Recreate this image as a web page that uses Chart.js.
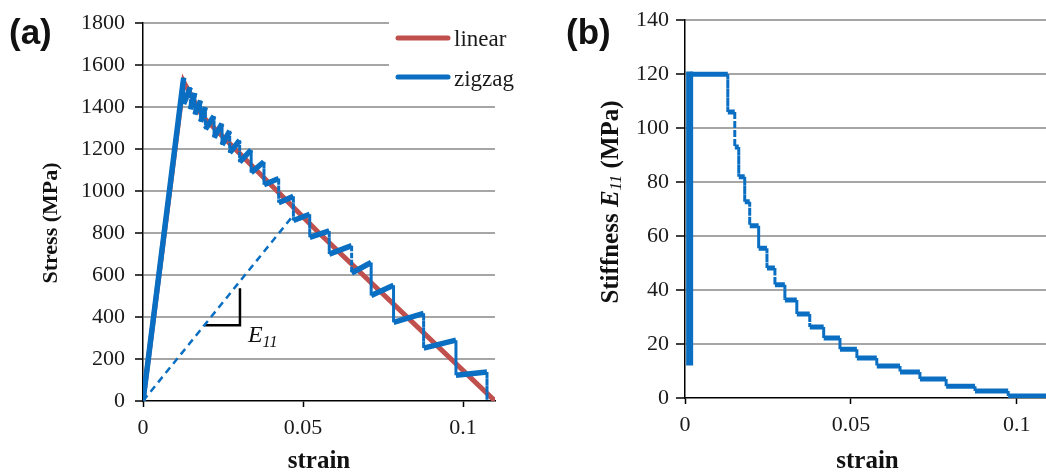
<!DOCTYPE html>
<html>
<head>
<meta charset="utf-8">
<title>Stress and stiffness vs strain</title>
<script src="https://cdn.jsdelivr.net/npm/chart.js@4.4.0/dist/chart.umd.min.js"></script>
<style>
    html, body { margin: 0; padding: 0; background: #fff; overflow: hidden; }
    body { width: 1046px; height: 474px; position: relative; }
    .panel { position: absolute; top: 0; height: 474px; }
    #wrapA { left: 0; width: 545px; }
    #wrapB { left: 560px; width: 500px; }
    .tag { position: absolute; font: bold 35px "Liberation Sans", Arial, sans-serif; line-height: 1; color: #111; }
</style>
</head>
<body>
<div class="panel" id="wrapA"><canvas id="chartA"></canvas></div>
<div class="panel" id="wrapB"><canvas id="chartB"></canvas></div>
<div class="tag" style="left:9px; top:14px;">(a)</div>
<div class="tag" style="left:566px; top:14px;">(b)</div>

<script>
// ---- Data ----

// (a) linear softening law
const linearStrain = [0, 0.0127, 0.0185, 0.0547, 0.11];
const linearStress = [0, 1522, 1358, 805, 0];

// (a) zigzag: strain of each stress drop, stress before and after the drop
const dropStrain = [0.0127, 0.0148, 0.0162, 0.0180, 0.0195, 0.0222, 0.0247, 0.0271, 0.0302, 0.0338, 0.0378,
                    0.0424, 0.0470, 0.0521, 0.0582, 0.0652, 0.0713, 0.0783, 0.0877, 0.0978, 0.1075];
const dropTop = [1540, 1495, 1468, 1432, 1400, 1358, 1322, 1287, 1242, 1196, 1140,
                 1060, 975, 890, 810, 740, 660, 551, 418, 290, 138];
const dropBottom = [1415, 1390, 1365, 1330, 1295, 1255, 1220, 1182, 1138, 1088, 1030,
                    945, 860, 780, 700, 610, 503, 375, 252, 123, 5];

// (a) dashed secant (unloading to origin)
const secantStrain = [0, 0.047];
const secantStress = [0, 885];

// (a) slope marker for E11
const markerStrain = [0.0194, 0.0303, 0.0303];
const markerStress = [361, 361, 537];

// (b) stiffness steps: level i holds from stiffStrain[i] to stiffStrain[i+1]
const stiffStrain = [0.0014, 0.0129, 0.0150, 0.0162, 0.0180, 0.0195, 0.0222, 0.0247, 0.0271, 0.0301, 0.0337,
                     0.0376, 0.0418, 0.0467, 0.0518, 0.0578, 0.0648, 0.0708, 0.0787, 0.0874, 0.0974, 0.11];
const stiffLevel = [120, 106, 93, 82, 72.7, 63.8, 55.5, 48.2, 42, 36.3, 31.1,
                    26.3, 22.2, 18.1, 14.8, 11.9, 9.6, 7.0, 4.4, 2.6, 0.7];
const stiffStart = 12;

// Tick values
const strainTicks = [0, 0.05, 0.1];
const stressTicks = [0, 200, 400, 600, 800, 1000, 1200, 1400, 1600, 1800];
const stiffTicks = [0, 20, 40, 60, 80, 100, 120, 140];

// ---- Style ----
const colors = {
    blue: '#0a6fc2',
    red: '#c0504d',
    grid: '#a6a6a6',
    text: '#1a1a1a'
};
const serif = '"Liberation Serif", "Times New Roman", serif';

Chart.defaults.font.family = serif;
Chart.defaults.color = colors.text;
Chart.defaults.animation = false;

// Helpers
function toPoints(xs, ys) {
    return xs.map((x, i) => ({ x: x, y: ys[i] }));
}

function zigzagPoints() {
    const pts = [{ x: 0, y: 0 }];
    dropStrain.forEach((s, i) => {
        pts.push({ x: s, y: dropTop[i] });
        pts.push({ x: s, y: dropBottom[i] });
    });
    return pts;
}

function stairPoints() {
    const pts = [{ x: stiffStrain[0], y: stiffLevel[0] }];
    stiffLevel.forEach((level, i) => {
        pts.push({ x: stiffStrain[i + 1], y: level });
        if (i + 1 < stiffLevel.length) pts.push({ x: stiffStrain[i + 1], y: stiffLevel[i + 1] });
    });
    return pts;
}

const isVertical = (ctx) => ctx.p0.parsed.x === ctx.p1.parsed.x;

// Draw a rotated axis title made of differently styled parts
function drawVerticalTitle(ctx, parts, cx, cy) {
    ctx.save();
    let total = 0;
    parts.forEach(p => { ctx.font = p.font; p.w = ctx.measureText(p.text).width; total += p.w; });
    ctx.translate(cx, cy);
    ctx.rotate(-Math.PI / 2);
    ctx.textBaseline = 'middle';
    ctx.textAlign = 'left';
    ctx.fillStyle = '#111';
    let x = -total / 2;
    parts.forEach(p => { ctx.font = p.font; ctx.fillText(p.text, x, p.dy || 0); x += p.w; });
    ctx.restore();
}

function axisX(title, ticks, boxHeight) {
    return {
        type: 'linear',
        min: 0,
        max: 0.11,
        afterBuildTicks: (scale) => { scale.ticks = ticks.map(v => ({ value: v })); },
        ticks: {
            font: { size: 22 },
            color: colors.text,
            padding: 8,
            maxRotation: 0,
            callback: (v) => String(+v.toFixed(2))
        },
        grid: { drawOnChartArea: false, tickLength: 6, tickColor: '#000', tickWidth: 1.5 },
        border: { color: '#000', width: 1.5 },
        title: {
            display: true,
            text: title,
            color: '#111',
            font: { size: 25, weight: 'bold' },
            padding: { top: 0, bottom: -3 }
        },
        afterFit: (scale) => { scale.height = boxHeight; }
    };
}

function axisY(max, ticks, boxWidth, tickLen, pad) {
    return {
        min: 0,
        max: max,
        afterBuildTicks: (scale) => { scale.ticks = ticks.map(v => ({ value: v })); },
        ticks: { font: { size: 22 }, color: colors.text, padding: pad, callback: (v) => String(v) },
        grid: {
            color: (ctx) => (ctx.tick && ctx.tick.value === 0) ? 'rgba(0,0,0,0)' : colors.grid,
            lineWidth: 2,
            tickLength: tickLen,
            tickColor: '#000',
            tickWidth: 1.5
        },
        border: { color: '#000', width: 1.5 },
        afterFit: (scale) => { scale.width = boxWidth; }
    };
}

// Legend, y title and E11 label for panel (a)
const decorA = {
    id: 'decorA',
    afterDraw(chart) {
        const ctx = chart.ctx;
        const xs = chart.scales.x, ys = chart.scales.y;

        // legend box
        ctx.save();
        ctx.fillStyle = '#fff';
        ctx.fillRect(389, 10, chart.width - 389, 87);
        [['linear', colors.red, 38, 46], ['zigzag', colors.blue, 77, 86]].forEach(([label, color, ly, base]) => {
            ctx.strokeStyle = color;
            ctx.lineWidth = 5;
            ctx.lineCap = 'round';
            ctx.beginPath();
            ctx.moveTo(398, ly);
            ctx.lineTo(448, ly);
            ctx.stroke();
            ctx.fillStyle = colors.text;
            ctx.font = '23px ' + serif;
            ctx.textBaseline = 'alphabetic';
            ctx.fillText(label, 454, base);
        });

        // E11 label next to the slope marker
        const lx = xs.getPixelForValue(0.0328), ly = ys.getPixelForValue(280);
        ctx.fillStyle = '#111';
        ctx.font = 'italic 24px ' + serif;
        ctx.fillText('E', lx, ly);
        const ew = ctx.measureText('E').width;
        ctx.font = 'italic 16px ' + serif;
        ctx.fillText('11', lx + ew, ly + 5);
        ctx.restore();

        drawVerticalTitle(ctx, [{ text: 'Stress (MPa)', font: 'bold 22px ' + serif }], 51, 223);
    }
};

// y title for panel (b)
const decorB = {
    id: 'decorB',
    afterDraw(chart) {
        drawVerticalTitle(chart.ctx, [
            { text: 'Stiffness ', font: 'bold 25px ' + serif },
            { text: 'E', font: 'italic bold 25px ' + serif },
            { text: '11', font: 'italic 17px ' + serif, dy: 5 },
            { text: ' (MPa)', font: 'bold 25px ' + serif }
        ], 52, 202);
    }
};

// Create stress-strain chart (a)
function createStressChart(canvasId) {
    const ctx = document.getElementById(canvasId);
    if (!ctx) return null;

    return new Chart(ctx, {
        type: 'line',
        data: {
            datasets: [{
                label: 'zigzag',
                data: zigzagPoints(),
                borderColor: colors.blue,
                borderWidth: 5.5,
                pointRadius: 0,
                segment: {
                    borderDash: (c) => isVertical(c) ? [4, 3] : undefined,
                    borderWidth: (c) => isVertical(c) ? 3 : undefined
                }
            }, {
                label: 'secant',
                data: toPoints(secantStrain, secantStress),
                borderColor: colors.blue,
                borderWidth: 2.5,
                borderDash: [7, 5],
                pointRadius: 0
            }, {
                label: 'marker',
                data: toPoints(markerStrain, markerStress),
                borderColor: '#000',
                borderWidth: 2.5,
                pointRadius: 0
            }, {
                label: 'linear',
                data: toPoints(linearStrain, linearStress),
                borderColor: colors.red,
                borderWidth: 5,
                pointRadius: 0
            }]
        },
        options: {
            responsive: true,
            maintainAspectRatio: false,
            layout: { padding: { left: 0, top: 22, right: 50, bottom: 0 } },
            plugins: { legend: { display: false }, tooltip: { enabled: false } },
            scales: {
                x: axisX('strain', strainTicks, 73),
                y: axisY(1800, stressTicks, 143, 8, 10)
            }
        },
        plugins: [decorA]
    });
}

// Create stiffness-strain chart (b)
function createStiffnessChart(canvasId) {
    const ctx = document.getElementById(canvasId);
    if (!ctx) return null;

    return new Chart(ctx, {
        type: 'line',
        data: {
            datasets: [{
                label: 'E11',
                data: stairPoints(),
                borderColor: colors.blue,
                borderWidth: 5,
                pointRadius: 0,
                segment: {
                    borderDash: (c) => isVertical(c) ? [5, 4] : undefined,
                    borderWidth: (c) => isVertical(c) ? 3 : undefined
                }
            }, {
                label: 'initial',
                data: toPoints([stiffStrain[0], stiffStrain[0]], [stiffStart, stiffLevel[0] + 1]),
                borderColor: colors.blue,
                borderWidth: 7,
                pointRadius: 0
            }]
        },
        options: {
            responsive: true,
            maintainAspectRatio: false,
            layout: { padding: { left: 0, top: 20, right: 10, bottom: 0 } },
            plugins: { legend: { display: false }, tooltip: { enabled: false } },
            scales: {
                x: axisX('strain', strainTicks, 76),
                y: axisY(140, stiffTicks, 125, 9, 7)
            }
        },
        plugins: [decorB]
    });
}

createStressChart('chartA');
createStiffnessChart('chartB');
</script>
</body>
</html>
